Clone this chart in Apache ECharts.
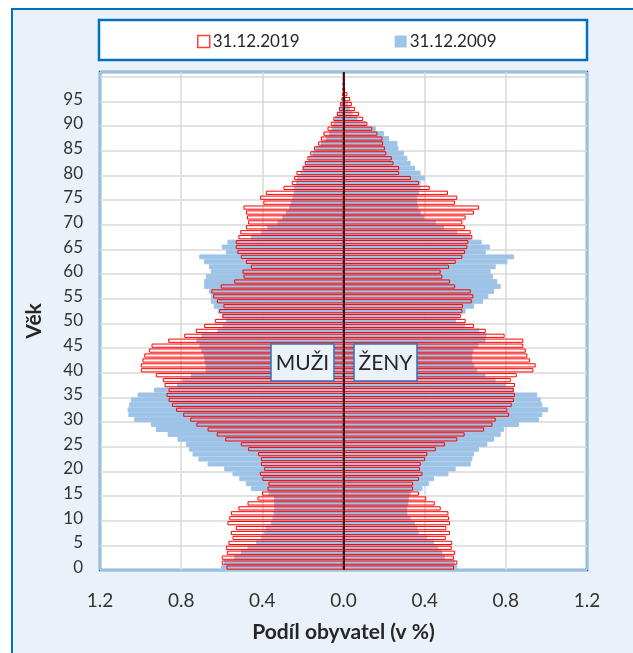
<!DOCTYPE html>
<html><head><meta charset="utf-8">
<script src="https://cdn.jsdelivr.net/npm/echarts@6/dist/echarts.min.js"></script>
<style>html,body{margin:0;padding:0;background:#fff}#c{width:633px;height:653px}</style>
</head><body><div id="c"></div>
<script>
// Age categories (0 .. 100)
const ages = ['0','1','2','3','4','5','6','7','8','9','10','11','12','13','14','15','16','17','18','19',
'20','21','22','23','24','25','26','27','28','29','30','31','32','33','34','35','36','37','38','39',
'40','41','42','43','44','45','46','47','48','49','50','51','52','53','54','55','56','57','58','59',
'60','61','62','63','64','65','66','67','68','69','70','71','72','73','74','75','76','77','78','79',
'80','81','82','83','84','85','86','87','88','89','90','91','92','93','94','95','96','97','98','99','100'];
// Labelled ages on the vertical axis
const ageTickLabels = ['0','5','10','15','20','25','30','35','40','45','50','55','60','65','70','75','80','85','90','95'];
// Horizontal axis tick labels
const shareTicks = [-1.2, -0.8, -0.4, 0, 0.4, 0.8, 1.2];

// Men, 31.12.2019 (share of population, %)
const men2019 = [0.577,0.600,0.600,0.575,0.580,0.567,0.547,0.555,0.531,0.572,
0.563,0.555,0.518,0.473,0.424,0.402,0.375,0.370,0.400,0.412,
0.391,0.407,0.407,0.421,0.470,0.506,0.583,0.625,0.670,0.725,
0.755,0.790,0.825,0.845,0.862,0.872,0.862,0.882,0.890,0.925,
0.999,0.999,0.991,0.982,0.958,0.946,0.864,0.785,0.728,0.687,
0.634,0.597,0.613,0.592,0.624,0.642,0.651,0.605,0.539,0.493,
0.498,0.457,0.481,0.506,0.523,0.531,0.531,0.518,0.509,0.481,
0.470,0.476,0.481,0.493,0.395,0.411,0.383,0.296,0.255,0.243,
0.232,0.202,0.191,0.178,0.164,0.145,0.125,0.112,0.099,0.079,
0.063,0.050,0.033,0.022,0.017,0.010,0.006,0.004,0.003,0.002,
0.002];
// Men, 31.12.2009
const men2009 = [0.603,0.588,0.539,0.506,0.473,0.432,0.407,0.391,0.383,0.358,
0.350,0.345,0.342,0.342,0.342,0.370,0.457,0.481,0.514,0.547,
0.588,0.670,0.715,0.744,0.761,0.777,0.818,0.867,0.925,0.949,
1.031,1.060,1.064,1.056,1.048,1.015,0.933,0.820,0.795,0.752,
0.680,0.680,0.685,0.690,0.700,0.710,0.725,0.700,0.621,0.596,
0.580,0.600,0.620,0.640,0.654,0.654,0.662,0.687,0.687,0.678,
0.654,0.662,0.687,0.711,0.580,0.600,0.572,0.457,0.407,0.375,
0.326,0.301,0.284,0.268,0.260,0.252,0.245,0.245,0.235,0.228,
0.212,0.200,0.186,0.170,0.153,0.137,0.112,0.088,0.071,0.059,
0.050,0.043,0.030,0.022,0.013,0.008,0.005,0.003,0.002,0.001,
0.001];
// Women, 31.12.2019
const women2019 = [0.545,0.561,0.545,0.550,0.533,0.536,0.504,0.525,0.507,0.525,
0.520,0.517,0.479,0.450,0.408,0.372,0.343,0.343,0.372,0.389,
0.377,0.381,0.402,0.413,0.455,0.500,0.561,0.597,0.693,0.734,
0.750,0.816,0.807,0.829,0.840,0.845,0.840,0.845,0.824,0.854,
0.936,0.947,0.919,0.906,0.898,0.886,0.886,0.794,0.701,0.643,
0.602,0.578,0.586,0.589,0.632,0.640,0.627,0.550,0.525,0.487,
0.479,0.520,0.553,0.586,0.599,0.610,0.615,0.635,0.627,0.598,
0.586,0.602,0.643,0.668,0.550,0.561,0.515,0.425,0.372,0.332,
0.274,0.274,0.246,0.238,0.211,0.204,0.195,0.192,0.167,0.142,
0.118,0.097,0.077,0.057,0.041,0.033,0.019,0.008,0.005,0.003,
0.002];
// Women, 31.12.2009
const women2009 = [0.560,0.550,0.500,0.487,0.467,0.446,0.413,0.372,0.364,0.353,
0.331,0.315,0.315,0.320,0.323,0.331,0.389,0.421,0.446,0.517,
0.553,0.627,0.635,0.643,0.668,0.709,0.742,0.775,0.791,0.865,
0.963,0.980,1.009,0.980,0.972,0.955,0.840,0.800,0.750,0.700,
0.660,0.645,0.635,0.635,0.640,0.665,0.700,0.705,0.670,0.600,
0.555,0.570,0.602,0.643,0.688,0.714,0.742,0.775,0.758,0.737,
0.725,0.750,0.808,0.840,0.701,0.721,0.681,0.627,0.561,0.495,
0.455,0.397,0.380,0.369,0.364,0.364,0.372,0.380,0.380,0.402,
0.380,0.353,0.331,0.315,0.298,0.271,0.266,0.225,0.200,0.159,
0.110,0.069,0.045,0.033,0.022,0.012,0.006,0.003,0.002,0.001,
0.001];

const FONT = 'Lato, "Open Sans", "DejaVu Sans", sans-serif';
const BLUE = '#9DC3E6';
const RED = '#FF0000';
const FRAME = '#0070C0';
const neg = arr => arr.map(v => -v);

const chart = echarts.init(document.getElementById('c'), null, {renderer: 'canvas'});
const option = {
  backgroundColor: '#ffffff',
  animation: false,
  textStyle: {fontFamily: FONT},
  graphic: [
    {type: 'rect', z: -10, shape: {x: 12, y: 9, width: 640, height: 660},
     style: {fill: '#EBF1F9', stroke: FRAME, lineWidth: 2}},
    {type: 'rect', z: -5, shape: {x: 99, y: 20, width: 488, height: 40},
     style: {fill: '#ffffff', stroke: FRAME, lineWidth: 2.5}},
    {type: 'rect', z: 100, shape: {x: 271, y: 344, width: 63, height: 37},
     style: {fill: '#EBF1F9', stroke: '#2E75B6', lineWidth: 1.5}},
    {type: 'text', z: 101, style: {x: 302.5, y: 363, text: 'MUŽI', fill: '#262626',
      fontSize: 21, fontFamily: FONT, align: 'center', verticalAlign: 'middle'}},
    {type: 'rect', z: 100, shape: {x: 354, y: 344, width: 63, height: 37},
     style: {fill: '#EBF1F9', stroke: '#2E75B6', lineWidth: 1.5}},
    {type: 'text', z: 101, style: {x: 385.5, y: 363, text: 'ŽENY', fill: '#262626',
      fontSize: 21, fontFamily: FONT, align: 'center', verticalAlign: 'middle'}}
  ],
  legend: {
    top: 28, left: 192, itemGap: 95, itemWidth: 12, itemHeight: 12, icon: 'rect',
    selectedMode: false,
    textStyle: {fontSize: 17, color: '#262626', fontFamily: FONT, padding: [0, 0, 0, -2]},
    data: [
      {name: '31.12.2019', itemStyle: {color: '#ffffff', borderColor: '#FF4040', borderWidth: 1.5}},
      {name: '31.12.2009', itemStyle: {color: BLUE, borderWidth: 0}}
    ]
  },
  grid: {left: 100, right: 46, top: 72, bottom: 83, show: true, backgroundColor: '#ffffff',
         borderColor: FRAME, borderWidth: 2.5},
  xAxis: {
    type: 'value', min: shareTicks[0], max: shareTicks[shareTicks.length - 1], interval: 0.4,
    axisLine: {show: false}, axisTick: {show: false},
    splitLine: {show: true, lineStyle: {color: '#D9D9D9', width: 1.5}},
    axisLabel: {formatter: v => Math.abs(v).toFixed(1), fontSize: 19, color: '#333333', margin: 21, fontFamily: FONT},
    name: 'Podíl obyvatel (v %)', nameLocation: 'middle', nameGap: 52,
    nameTextStyle: {fontWeight: 'bold', fontSize: 21, color: '#262626', fontFamily: FONT}
  },
  yAxis: [
    {
      type: 'category', data: ages,
      axisLine: {show: false}, axisTick: {show: false},
      axisLabel: {interval: (i, v) => ageTickLabels.indexOf(v) >= 0, fontSize: 17, color: '#333333', margin: 17, fontFamily: FONT},
      splitLine: {show: true, interval: 4, lineStyle: {color: '#D9D9D9', width: 1.5}},
      name: 'Věk', nameLocation: 'middle', nameGap: 55, nameRotate: 90,
      nameTextStyle: {fontWeight: 'bold', fontSize: 21, color: '#262626', fontFamily: FONT}
    },
    {type: 'category', data: ages, show: false}
  ],
  series: [
    {name: '31.12.2009', type: 'bar', yAxisIndex: 0, stack: 'y2009', barCategoryGap: '0%',
     data: neg(men2009), itemStyle: {color: BLUE, borderColor: BLUE, borderWidth: 1}, silent: true},
    {name: '31.12.2009', type: 'bar', yAxisIndex: 0, stack: 'y2009',
     data: women2009, itemStyle: {color: BLUE, borderColor: BLUE, borderWidth: 1}, silent: true},
    {name: '31.12.2019', type: 'bar', yAxisIndex: 1, stack: 'y2019', barCategoryGap: '14%',
     data: neg(men2019), itemStyle: {color: 'rgba(255,255,255,0)', borderColor: RED, borderWidth: 1}, silent: true},
    {name: '31.12.2019', type: 'bar', yAxisIndex: 1, stack: 'y2019',
     data: women2019, itemStyle: {color: 'rgba(255,255,255,0)', borderColor: RED, borderWidth: 1}, silent: true,
     markLine: {silent: true, symbol: 'none', label: {show: false},
       lineStyle: {color: '#000000', width: 1.5, type: 'solid'}, data: [{xAxis: 0}]}}
  ]
};
chart.setOption(option);
</script>
</body></html>
